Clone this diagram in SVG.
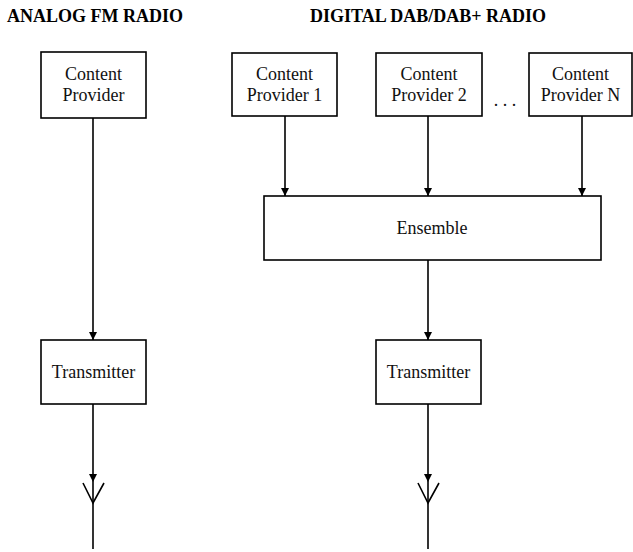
<svg xmlns="http://www.w3.org/2000/svg" width="633" height="552" viewBox="0 0 633 552">
<defs>
<style>
.box{fill:#fff;stroke:#000;stroke-width:1.6}
.t{font-family:'Liberation Serif',Tinos,'Times New Roman',Times,'DejaVu Serif',serif;font-size:18px;fill:#111;text-anchor:middle}
.h{font-family:'Liberation Serif',Tinos,'Times New Roman',Times,'DejaVu Serif',serif;font-size:18px;font-weight:bold;fill:#000}
.ln{stroke:#000;stroke-width:1.6;fill:none}
</style>
<marker id="ah" viewBox="0 0 8 10" refX="8" refY="5" markerWidth="8" markerHeight="10" markerUnits="userSpaceOnUse" orient="auto">
<path d="M0,1 L8,5 L0,9 Z" fill="#000"/>
</marker>
</defs>
<rect width="633" height="552" fill="#fff"/>
<text class="h" x="7" y="22">ANALOG FM RADIO</text>
<text class="h" x="310" y="22">DIGITAL DAB/DAB+ RADIO</text>
<g id="connectors">
<line class="ln" x1="93" y1="118" x2="93" y2="340" marker-end="url(#ah)"/>
<line class="ln" x1="93" y1="404" x2="93" y2="482" marker-end="url(#ah)"/>
<line class="ln" x1="93" y1="482" x2="93" y2="549"/>
<polyline class="ln" points="83,483 93,503 104,483"/>
<line class="ln" x1="285" y1="116" x2="285" y2="196" marker-end="url(#ah)"/>
<line class="ln" x1="428" y1="116" x2="428" y2="196" marker-end="url(#ah)"/>
<line class="ln" x1="582" y1="116" x2="582" y2="196" marker-end="url(#ah)"/>
<line class="ln" x1="428" y1="260" x2="428" y2="340" marker-end="url(#ah)"/>
<line class="ln" x1="428" y1="404" x2="428" y2="482" marker-end="url(#ah)"/>
<line class="ln" x1="428" y1="482" x2="428" y2="549"/>
<polyline class="ln" points="418,483 428,503 439,483"/>
</g>
<g id="analog-provider">
<rect class="box" x="41" y="52" width="105" height="66"/>
<text class="t" x="93.5" y="80">Content</text>
<text class="t" x="93.5" y="101">Provider</text>
</g>
<g id="analog-transmitter">
<rect class="box" x="41" y="340" width="105" height="64"/>
<text class="t" x="93.5" y="378">Transmitter</text>
</g>
<g id="provider1">
<rect class="box" x="232" y="53" width="105" height="63"/>
<text class="t" x="284.5" y="80">Content</text>
<text class="t" x="284.5" y="101">Provider 1</text>
</g>
<g id="provider2">
<rect class="box" x="376" y="53" width="106" height="63"/>
<text class="t" x="429" y="80">Content</text>
<text class="t" x="429" y="101">Provider 2</text>
</g>
<text class="t" x="505" y="106">. . .</text>
<g id="providerN">
<rect class="box" x="529" y="53" width="103" height="63"/>
<text class="t" x="580.5" y="80">Content</text>
<text class="t" x="580.5" y="101">Provider N</text>
</g>
<g id="ensemble">
<rect class="box" x="264" y="196" width="337" height="64"/>
<text class="t" x="432" y="234">Ensemble</text>
</g>
<g id="digital-transmitter">
<rect class="box" x="376" y="340" width="105" height="64"/>
<text class="t" x="428.5" y="378">Transmitter</text>
</g>
</svg>
